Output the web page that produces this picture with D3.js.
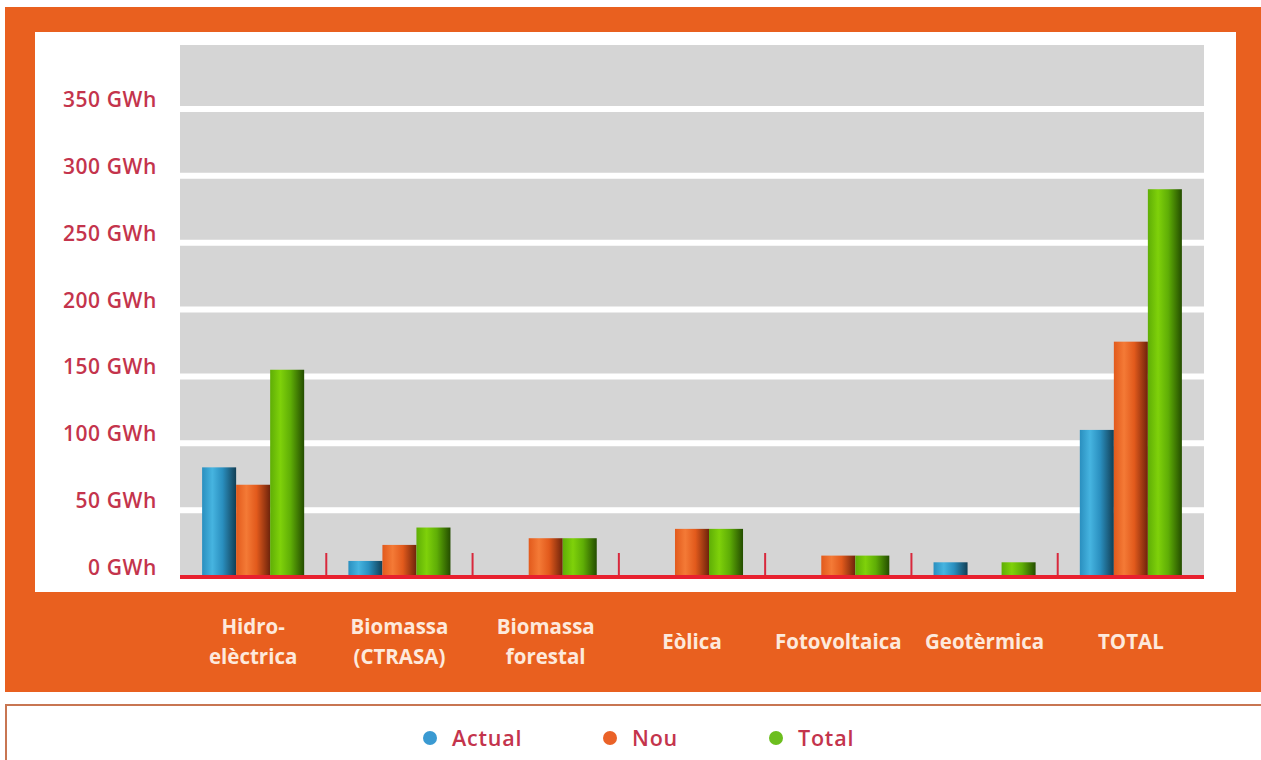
<!DOCTYPE html>
<html>
<head>
<meta charset="utf-8">
<script src="https://cdn.jsdelivr.net/npm/d3@7"></script>
<style>
  html, body { margin: 0; padding: 0; background: #ffffff; }
  svg { display: block; }
</style>
</head>
<body>
<svg id="chart" width="1261" height="760"></svg>
<script>
// Energy production per source (GWh)
const categories = [
  ["Hidro-", "elèctrica"],
  ["Biomassa", "(CTRASA)"],
  ["Biomassa", "forestal"],
  ["Eòlica"],
  ["Fotovoltaica"],
  ["Geotèrmica"],
  ["TOTAL"]
];
const seriesNames = ["Actual", "Nou", "Total"];
const actual = [82, 12, 0, 0, 0, 11, 110];
const nou    = [69, 24, 29, 36, 16, 0, 176];
const total  = [155, 37, 29, 36, 16, 11, 290];
const yTicks = [0, 50, 100, 150, 200, 250, 300, 350];

const seriesValues = [actual, nou, total];
const palette = {
  Actual: { light: "#46b4e0", mid: "#2a8fbf", dark: "#123f55", dot: "#3a9ad2" },
  Nou:    { light: "#f47a36", mid: "#e25a1c", dark: "#6e230b", dot: "#ea6228" },
  Total:  { light: "#7fd10a", mid: "#5fae06", dark: "#244d00", dot: "#6cbe1e" }
};

const svg = d3.select("#chart");
const ORANGE = "#e9601f";
const LABEL_RED = "#c4344c";
const FONT = "'Open Sans', sans-serif";

// Frame: orange border, white panel
svg.append("rect").attr("x", 5).attr("y", 7).attr("width", 1256).attr("height", 685).attr("fill", ORANGE);
svg.append("rect").attr("x", 35).attr("y", 32).attr("width", 1201).attr("height", 560).attr("fill", "#ffffff");

// Legend box
svg.append("rect").attr("x", 6).attr("y", 705).attr("width", 1262).attr("height", 60)
  .attr("fill", "#ffffff").attr("stroke", "#c87652").attr("stroke-width", 2);

// Scales
const plotLeft = 180, plotRight = 1204, plotTop = 45, baseY = 577;
const x0 = d3.scaleBand().domain(d3.range(categories.length)).range([plotLeft, plotRight]).padding(0);
const x1 = d3.scaleBand().domain(seriesNames).range([0, x0.bandwidth()]).paddingInner(0).paddingOuter(0.65);
const y = d3.scaleLinear().domain([0, 350]).range([baseY, 109]);

// Gray plot area
svg.append("rect").attr("x", plotLeft).attr("y", plotTop).attr("width", plotRight - plotLeft)
  .attr("height", baseY - plotTop).attr("fill", "#d5d5d5");

// White grid bands
svg.append("g").selectAll("line").data(yTicks.filter(v => v > 0)).join("line")
  .attr("x1", plotLeft).attr("x2", plotRight)
  .attr("y1", d => y(d)).attr("y2", d => y(d))
  .attr("stroke", "#ffffff").attr("stroke-width", 6);

// Y tick labels
svg.append("g").selectAll("text").data(yTicks).join("text")
  .attr("x", 157).attr("y", d => y(d) - 2)
  .attr("text-anchor", "end")
  .attr("font-family", FONT)
  .attr("font-size", 21)
  .attr("font-weight", 600)
  .attr("letter-spacing", 0.6)
  .attr("fill", LABEL_RED)
  .text(d => d + " GWh");

// Cylinder-like gradients
const defs = svg.append("defs");
seriesNames.forEach(name => {
  const c = palette[name];
  const g = defs.append("linearGradient").attr("id", "grad-" + name)
    .attr("x1", "0%").attr("x2", "100%").attr("y1", "0%").attr("y2", "0%");
  g.append("stop").attr("offset", "0%").attr("stop-color", c.mid);
  g.append("stop").attr("offset", "30%").attr("stop-color", c.light);
  g.append("stop").attr("offset", "60%").attr("stop-color", c.mid);
  g.append("stop").attr("offset", "100%").attr("stop-color", c.dark);
});

// Group separators
svg.append("g").selectAll("line").data(d3.range(1, categories.length)).join("line")
  .attr("x1", d => x0(d)).attr("x2", d => x0(d))
  .attr("y1", 553).attr("y2", baseY)
  .attr("stroke", "#d8283c").attr("stroke-width", 2);

// Bars
const groups = svg.append("g").selectAll("g").data(categories).join("g")
  .attr("transform", (d, i) => `translate(${x0(i)},0)`);
groups.selectAll("rect")
  .data((d, i) => seriesNames.map((s, k) => ({ s, v: seriesValues[k][i] })).filter(e => e.v > 0))
  .join("rect")
  .attr("x", d => x1(d.s))
  .attr("width", x1.bandwidth())
  .attr("y", d => y(d.v))
  .attr("height", d => baseY - y(d.v))
  .attr("fill", d => `url(#grad-${d.s})`);

// Baseline
svg.append("line").attr("x1", plotLeft).attr("x2", plotRight)
  .attr("y1", baseY).attr("y2", baseY)
  .attr("stroke", "#e8202e").attr("stroke-width", 4);

// Category labels
const catLabels = svg.append("g").selectAll("text").data(categories).join("text")
  .attr("text-anchor", "middle")
  .attr("font-family", FONT)
  .attr("font-weight", "bold")
  .attr("font-size", 20.5)
  .attr("fill", "#fde9dc");
catLabels.each(function(lines, i) {
  const cx = x0(i) + x0.bandwidth() / 2;
  const startY = lines.length === 1 ? 649 : 634;
  d3.select(this).selectAll("tspan").data(lines).join("tspan")
    .attr("x", cx).attr("y", (l, j) => startY + j * 30)
    .text(l => l);
});

// Legend
const legendX = [430, 610, 776];
const legend = svg.append("g").selectAll("g").data(seriesNames).join("g")
  .attr("transform", (d, i) => `translate(${legendX[i]},738)`);
legend.append("circle").attr("r", 7).attr("fill", d => palette[d].dot);
legend.append("text").attr("x", 22).attr("y", 8)
  .attr("font-family", FONT)
  .attr("font-size", 21.5)
  .attr("font-weight", 600)
  .attr("letter-spacing", 0.8)
  .attr("fill", LABEL_RED)
  .text(d => d);
</script>
</body>
</html>
